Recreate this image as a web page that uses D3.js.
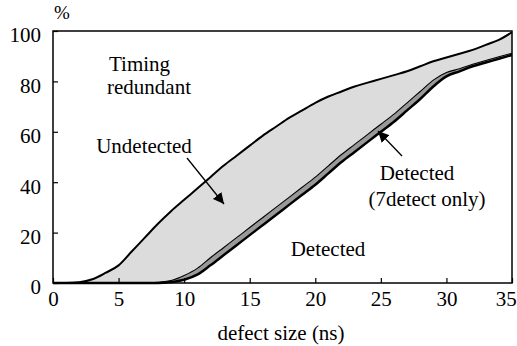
<!DOCTYPE html>
<html>
<head>
<meta charset="utf-8">
<script src="https://cdn.jsdelivr.net/npm/d3@7"></script>
<style>
  body { margin: 0; background: #fff; }
</style>
</head>
<body>
<div id="chart"></div>
<script>
// defect size (ns)
const sizes = [0, 1, 2, 3, 4, 5, 6, 7, 8, 9, 10, 11, 12, 13, 14, 15, 16, 17, 18,
               19, 20, 21, 22, 23, 24, 25, 26, 27, 28, 29, 30, 31, 32, 33, 34, 35];
// upper edge of the "Undetected" region (%)
const undetectedTop = [0, 0, 0.3, 1.5, 4, 7, 12.5, 18, 23.5, 28.5, 33, 37.5, 42, 46.5, 50.5, 54.5,
                       58.5, 62, 65.5, 68.5, 71.5, 74, 76, 78, 79.5, 81, 82.5, 84, 86, 88,
                       89.5, 91, 92.5, 94.5, 96.5, 99.5];
// upper edge of "Detected (7detect only)" (%)
const detected7 = [0, 0, 0, 0, 0, 0, 0, 0, 0.3, 1, 3, 5.8, 10, 14, 18, 22,
                   26, 30, 34, 38, 42, 46.5, 51, 55, 59, 63, 67, 71.5, 76, 80.5,
                   83.5, 85, 86.8, 88.3, 89.8, 91.2];
// "Detected" (%)
const detected = [0, 0, 0, 0, 0, 0, 0, 0, 0, 0.4, 1.3, 3.3, 7, 11, 15, 19,
                  23, 27, 31, 35, 39, 43.5, 48, 52, 56, 60, 64, 68.5, 73, 78,
                  82, 84, 86, 87.5, 89, 90.5];
const xTicks = [0, 5, 10, 15, 20, 25, 30, 35];
const yTicks = [0, 20, 40, 60, 80, 100];

const FONT = "'Liberation Serif'";
const W = 517, H = 346;
const svg = d3.select("#chart").append("svg")
              .attr("width", W)
              .attr("height", H);

const x = d3.scaleLinear().domain([0, 35]).range([53, 512]);
const y = d3.scaleLinear().domain([0, 100]).range([283, 31]);

const rows = sizes.map((s, i) => ({ s, top: undetectedTop[i], d7: detected7[i], d: detected[i] }));

// light gray: undetected band
svg.append("path")
   .datum(rows)
   .attr("fill", "#dcdcdc")
   .attr("d", d3.area().curve(d3.curveMonotoneX)
                 .x(d => x(d.s)).y0(d => y(d.d7)).y1(d => y(d.top)));

// dark gray: detected by 7detect only
svg.append("path")
   .datum(rows)
   .attr("fill", "#999")
   .attr("d", d3.area().curve(d3.curveMonotoneX)
                 .x(d => x(d.s)).y0(d => y(d.d)).y1(d => y(d.d7)));

const line = key => d3.line().curve(d3.curveMonotoneX).x(d => x(d.s)).y(d => y(d[key]));

svg.append("path").datum(rows)
   .attr("fill", "none").attr("stroke", "#000").attr("stroke-width", 1.1)
   .attr("d", line("d7"));
svg.append("path").datum(rows)
   .attr("fill", "none").attr("stroke", "#000").attr("stroke-width", 2.5)
   .attr("d", line("d"));
svg.append("path").datum(rows)
   .attr("fill", "none").attr("stroke", "#000").attr("stroke-width", 2)
   .attr("d", line("top"));

// frame
svg.append("rect")
   .attr("x", x(0)).attr("y", y(100))
   .attr("width", x(35) - x(0)).attr("height", y(0) - y(100))
   .attr("fill", "none").attr("stroke", "#000").attr("stroke-width", 1.5);

// axes (ticks point inward)
const yAxis = svg.append("g")
   .attr("transform", `translate(${x(0)},0)`)
   .call(d3.axisLeft(y).tickValues(yTicks).tickSize(-5).tickPadding(12));
yAxis.select(".domain").remove();
yAxis.selectAll("text").attr("dy", "0.52em");

const xAxis = svg.append("g")
   .attr("transform", `translate(0,${y(0)})`)
   .call(d3.axisBottom(x).tickValues(xTicks).tickSize(-5).tickPadding(8));
xAxis.select(".domain").remove();
// last label sits against the right edge
xAxis.selectAll(".tick").filter(d => d === 35).select("text").attr("dx", "-0.3em");
svg.selectAll(".tick line").attr("stroke-width", 1.2);
svg.selectAll(".tick text").attr("font-family", FONT).attr("font-size", 21);

svg.append("text").attr("x", 62).attr("y", 19).attr("text-anchor", "middle")
   .attr("font-family", FONT).attr("font-size", 19).text("%");
svg.append("text").attr("x", 281).attr("y", 340).attr("text-anchor", "middle")
   .attr("font-family", FONT).attr("font-size", 21).text("defect size (ns)");

// annotations
const label = (tx, ty, str, anchor) =>
  svg.append("text").attr("x", tx).attr("y", ty)
     .attr("text-anchor", anchor || "start")
     .attr("font-family", FONT).attr("font-size", 21).text(str);

label(109, 71, "Timing");
label(107, 94, "redundant");
label(144, 153, "Undetected", "middle");
label(328, 256, "Detected", "middle");
label(417, 180, "Detected", "middle");
label(427, 206, "(7detect only)", "middle");

svg.append("defs").append("marker")
   .attr("id", "arrow").attr("viewBox", "0 0 10 10")
   .attr("refX", 10).attr("refY", 5)
   .attr("markerWidth", 11).attr("markerHeight", 11)
   .attr("markerUnits", "userSpaceOnUse")
   .attr("orient", "auto")
   .append("path").attr("d", "M0,0 L10,5 L0,10 z").attr("fill", "#000");

svg.append("line")
   .attr("x1", 187).attr("y1", 158).attr("x2", 224).attr("y2", 204)
   .attr("stroke", "#000").attr("stroke-width", 1.3)
   .attr("marker-end", "url(#arrow)");
svg.append("line")
   .attr("x1", 402).attr("y1", 156).attr("x2", 378).attr("y2", 131)
   .attr("stroke", "#000").attr("stroke-width", 1.3)
   .attr("marker-end", "url(#arrow)");
</script>
</body>
</html>
